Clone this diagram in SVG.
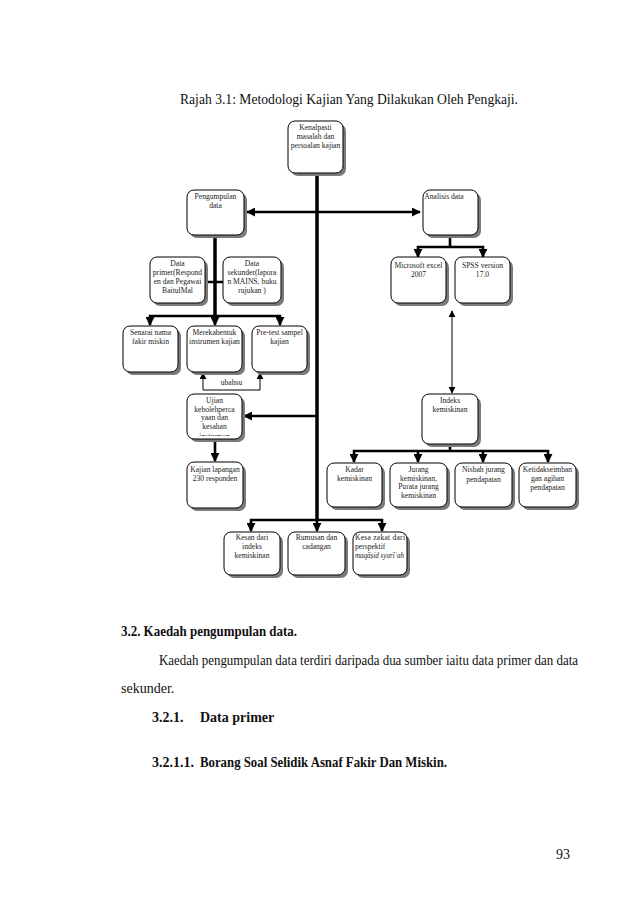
<svg xmlns="http://www.w3.org/2000/svg" width="638" height="903" viewBox="0 0 638 903">
<style>
  .bx{fill:#fff;stroke:#000;stroke-width:1}
  .sh{fill:#7a7a7a}
  .t{font-family:"Liberation Serif","Times New Roman",serif;font-size:7.6px;fill:#222;text-anchor:middle}
  .tl{text-anchor:start}
  .it{font-style:italic}
  .thick{stroke:#000;stroke-width:2.6;fill:none}
  .main{stroke:#000;stroke-width:3.5;fill:none}
  .thin{stroke:#000;stroke-width:1;fill:none}
  .body{font-family:"Liberation Serif","Times New Roman",serif;font-size:14px;fill:#111}
  .b{font-weight:bold}
</style>
<defs>
  <marker id="ah" markerUnits="userSpaceOnUse" markerWidth="9" markerHeight="9" viewBox="0 0 10 10" refX="9" refY="5" orient="auto">
    <path d="M0,0 L10,5 L0,10 z" fill="#000"/>
  </marker>
  <marker id="ahs" markerUnits="userSpaceOnUse" markerWidth="7" markerHeight="7" viewBox="0 0 10 10" refX="9" refY="5" orient="auto">
    <path d="M0,0 L10,5 L0,10 z" fill="#000"/>
  </marker>
  <marker id="ahsr" markerUnits="userSpaceOnUse" markerWidth="7" markerHeight="7" viewBox="0 0 10 10" refX="1" refY="5" orient="auto">
    <path d="M10,0 L0,5 L10,10 z" fill="#000"/>
  </marker>
  <marker id="ahr" markerUnits="userSpaceOnUse" markerWidth="9" markerHeight="9" viewBox="0 0 10 10" refX="1" refY="5" orient="auto">
    <path d="M10,0 L0,5 L10,10 z" fill="#000"/>
  </marker>
  <clipPath id="cu"><rect x="187" y="394" width="56" height="42"/></clipPath>
</defs>
<rect width="638" height="903" fill="#fff"/>

<text class="body" x="180" y="104" font-size="13" textLength="338" lengthAdjust="spacingAndGlyphs">Rajah 3.1: Metodologi Kajian Yang Dilakukan Oleh Pengkaji.</text>

<g id="connectors">
  <line class="main" x1="317" y1="173" x2="317" y2="520"/>
  <line class="thick" x1="247" y1="212" x2="420" y2="212" marker-start="url(#ahr)" marker-end="url(#ah)"/>
  <path class="thick" d="M450 235 V247 M417 247 H484"/>
  <line class="thick" x1="418" y1="246" x2="418" y2="257" marker-end="url(#ah)"/>
  <line class="thick" x1="483" y1="246" x2="483" y2="257" marker-end="url(#ah)"/>
  <line class="thin" x1="452" y1="311" x2="452" y2="393" marker-start="url(#ahsr)" marker-end="url(#ahs)"/>
  <path class="thick" d="M450 444 V451 M353 451 H549"/>
  <line class="thick" x1="354" y1="450" x2="354" y2="462" marker-end="url(#ah)"/>
  <line class="thick" x1="418" y1="450" x2="418" y2="462" marker-end="url(#ah)"/>
  <line class="thick" x1="483" y1="450" x2="483" y2="462" marker-end="url(#ah)"/>
  <line class="thick" x1="548" y1="450" x2="548" y2="462" marker-end="url(#ah)"/>
  <path class="main" d="M215 235 V316"/>
  <path class="thick" d="M149 316 H281 M205 282 H223"/>
  <line class="thick" x1="150" y1="315" x2="150" y2="325" marker-end="url(#ah)"/>
  <line class="thick" x1="215" y1="315" x2="215" y2="325" marker-end="url(#ah)"/>
  <line class="thick" x1="280" y1="315" x2="280" y2="325" marker-end="url(#ah)"/>
  <path class="thin" d="M203 390 H260"/>
  <line class="thin" x1="203" y1="390" x2="203" y2="373" marker-end="url(#ahs)"/>
  <line class="thin" x1="260" y1="390" x2="260" y2="373" marker-end="url(#ahs)"/>
  <line class="thick" x1="317" y1="416" x2="244" y2="416" marker-end="url(#ah)"/>
  <line class="thick" x1="215" y1="439" x2="215" y2="461" marker-end="url(#ah)"/>
  <path class="thick" d="M250 520 H383"/>
  <line class="thick" x1="251" y1="519" x2="251" y2="531" marker-end="url(#ah)"/>
  <line class="thick" x1="317" y1="519" x2="317" y2="531" marker-end="url(#ah)"/>
  <line class="thick" x1="382" y1="519" x2="382" y2="531" marker-end="url(#ah)"/>
</g>

<g id="n_kenalpasti">
  <rect class="sh" x="291" y="124" width="55" height="52" rx="7"/>
  <rect class="bx" x="288" y="121" width="55" height="52" rx="7"/>
  <text class="t" x="315.5" y="130">Kenalpasti</text>
  <text class="t" x="315.5" y="139">masalah dan</text>
  <text class="t" x="315.5" y="148">persoalan kajian</text>
</g>
<g id="n_pengumpulan">
  <rect class="sh" x="190" y="193" width="57" height="45" rx="7"/>
  <rect class="bx" x="187" y="190" width="57" height="45" rx="7"/>
  <text class="t" x="215.5" y="199">Pengumpulan</text>
  <text class="t" x="215.5" y="208">data</text>
</g>
<g id="n_analisis">
  <rect class="sh" x="426" y="193" width="55" height="45" rx="7"/>
  <rect class="bx" x="423" y="190" width="55" height="45" rx="7"/>
  <text class="t" x="444" y="199">Analisis data</text>
</g>
<g id="n_excel">
  <rect class="sh" x="394" y="260" width="55" height="46" rx="7"/>
  <rect class="bx" x="391" y="257" width="55" height="46" rx="7"/>
  <text class="t" x="418.5" y="268">Microsoft excel</text>
  <text class="t" x="418.5" y="277">2007</text>
</g>
<g id="n_spss">
  <rect class="sh" x="458" y="260" width="55" height="46" rx="7"/>
  <rect class="bx" x="455" y="257" width="55" height="46" rx="7"/>
  <text class="t" x="482.5" y="268">SPSS version</text>
  <text class="t" x="482.5" y="277">17.0</text>
</g>
<g id="n_dataprimer">
  <rect class="sh" x="153" y="260" width="55" height="46" rx="7"/>
  <rect class="bx" x="150" y="257" width="55" height="46" rx="7"/>
  <text class="t" x="177.5" y="266">Data</text>
  <text class="t" x="177.5" y="275">primer(Respond</text>
  <text class="t" x="177.5" y="284">en dan Pegawai</text>
  <text class="t" x="177.5" y="293">BaitulMal</text>
</g>
<g id="n_datasekunder">
  <rect class="sh" x="226" y="260" width="58" height="46" rx="7"/>
  <rect class="bx" x="223" y="257" width="58" height="46" rx="7"/>
  <text class="t" x="252" y="266">Data</text>
  <text class="t" x="252" y="275">sekunder(lapora</text>
  <text class="t" x="252" y="284">n MAINS, buku</text>
  <text class="t" x="252" y="293">rujukan )</text>
</g>
<g id="n_senarai">
  <rect class="sh" x="126" y="329" width="55" height="46" rx="7"/>
  <rect class="bx" x="123" y="326" width="55" height="46" rx="7"/>
  <text class="t" x="150.5" y="335">Senarai nama</text>
  <text class="t" x="150.5" y="344">fakir miskin</text>
</g>
<g id="n_merekabentuk">
  <rect class="sh" x="190" y="329" width="55" height="46" rx="7"/>
  <rect class="bx" x="187" y="326" width="55" height="46" rx="7"/>
  <text class="t" x="214.5" y="335">Merekabentuk</text>
  <text class="t" x="214.5" y="344">instrumen kajian</text>
</g>
<g id="n_pretest">
  <rect class="sh" x="255" y="329" width="55" height="46" rx="7"/>
  <rect class="bx" x="252" y="326" width="55" height="46" rx="7"/>
  <text class="t" x="279.5" y="335">Pre-test sampel</text>
  <text class="t" x="279.5" y="344">kajian</text>
</g>
<g id="n_ubahsuai">
  <text class="t" x="231.5" y="385">ubahsu</text>
</g>
<g id="n_ujian">
  <rect class="sh" x="190" y="397" width="55" height="45" rx="7"/>
  <rect class="bx" x="187" y="394" width="55" height="45" rx="7"/>
  <g clip-path="url(#cu)">
    <text class="t" x="214.5" y="403">Ujian</text>
    <text class="t" x="214.5" y="412">kebolehperca</text>
    <text class="t" x="214.5" y="420">yaan dan</text>
    <text class="t" x="214.5" y="429">kesahan</text>
    <text class="t" x="214.5" y="438.5">instrumen</text>
  </g>
</g>
<g id="n_kajianlapangan">
  <rect class="sh" x="190" y="465" width="56" height="46" rx="7"/>
  <rect class="bx" x="187" y="462" width="56" height="46" rx="7"/>
  <text class="t" x="215" y="472">Kajian lapangan</text>
  <text class="t" x="215" y="481">230 responden</text>
</g>
<g id="n_indeks">
  <rect class="sh" x="425" y="397" width="56" height="50" rx="7"/>
  <rect class="bx" x="422" y="394" width="56" height="50" rx="7"/>
  <text class="t" x="450" y="403">Indeks</text>
  <text class="t" x="450" y="412">kemiskinan</text>
</g>
<g id="n_kadar">
  <rect class="sh" x="330" y="466" width="55" height="44" rx="7"/>
  <rect class="bx" x="327" y="463" width="55" height="44" rx="7"/>
  <text class="t" x="354.5" y="472">Kadar</text>
  <text class="t" x="354.5" y="481">kemiskinan</text>
</g>
<g id="n_jurang">
  <rect class="sh" x="393" y="466" width="57" height="44" rx="7"/>
  <rect class="bx" x="390" y="463" width="57" height="44" rx="7"/>
  <text class="t" x="418.5" y="472">Jurang</text>
  <text class="t" x="418.5" y="480.5">kemiskinan,</text>
  <text class="t" x="418.5" y="489">Purata jurang</text>
  <text class="t" x="418.5" y="497.5">kemiskinan</text>
</g>
<g id="n_nisbah">
  <rect class="sh" x="458" y="466" width="57" height="44" rx="7"/>
  <rect class="bx" x="455" y="463" width="57" height="44" rx="7"/>
  <text class="t" x="483.5" y="472" font-size="8.3">Nisbah jurang</text>
  <text class="t" x="483.5" y="482" font-size="8.3">pendapatan</text>
</g>
<g id="n_ketidakseimbangan">
  <rect class="sh" x="522" y="466" width="57" height="44" rx="7"/>
  <rect class="bx" x="519" y="463" width="57" height="44" rx="7"/>
  <text class="t" x="547.5" y="472">Ketidakseimban</text>
  <text class="t" x="547.5" y="481">gan agihan</text>
  <text class="t" x="547.5" y="490">pendapatan</text>
</g>
<g id="n_kesan">
  <rect class="sh" x="227" y="535" width="56" height="43" rx="7"/>
  <rect class="bx" x="224" y="532" width="56" height="43" rx="7"/>
  <text class="t" x="252" y="540">Kesan dari</text>
  <text class="t" x="252" y="549">indeks</text>
  <text class="t" x="252" y="558">kemiskinan</text>
</g>
<g id="n_rumusan">
  <rect class="sh" x="291" y="535" width="57" height="43" rx="7"/>
  <rect class="bx" x="288" y="532" width="57" height="43" rx="7"/>
  <text class="t" x="316.5" y="540">Rumusan dan</text>
  <text class="t" x="316.5" y="549">cadangan</text>
</g>
<g id="n_kesazakat">
  <rect class="sh" x="356" y="535" width="54" height="43" rx="7"/>
  <rect class="bx" x="353" y="532" width="54" height="43" rx="7"/>
  <text class="t tl" x="355" y="540" textLength="50" lengthAdjust="spacing">Kesa zakat dari</text>
  <text class="t tl" x="355" y="549">perspektif</text>
  <text class="t tl it" x="355" y="558" textLength="49" lengthAdjust="spacingAndGlyphs">maqāṣid syarīʿah</text>
</g>

<text class="body b" x="121" y="636" textLength="176" lengthAdjust="spacingAndGlyphs">3.2. Kaedah pengumpulan data.</text>
<text class="body" x="159" y="665" textLength="419" lengthAdjust="spacingAndGlyphs">Kaedah pengumpulan data terdiri daripada dua sumber iaitu data primer dan data</text>
<text class="body" x="121" y="693">sekunder.</text>
<text class="body b" x="152" y="722">3.2.1.</text>
<text class="body b" x="200" y="722">Data primer</text>
<text class="body b" x="152" y="767">3.2.1.1.</text>
<text class="body b" x="200" y="767" textLength="247" lengthAdjust="spacingAndGlyphs">Borang Soal Selidik Asnaf Fakir Dan Miskin.</text>
<text class="body" x="556" y="859" font-size="10.5">93</text>
</svg>
